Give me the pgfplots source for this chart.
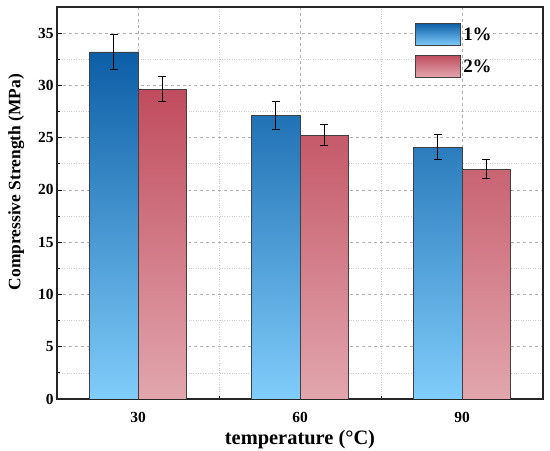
\documentclass[border=0pt]{standalone}
\usepackage{pgfplots}
\pgfplotsset{compat=1.18}
\usepackage{fontspec}
\setmainfont{Liberation Serif}
\definecolor{bluetop}{RGB}{12,94,166}
\definecolor{bluebot}{RGB}{128,204,250}
\definecolor{redtop}{RGB}{192,76,94}
\definecolor{redbot}{RGB}{226,166,173}
\begin{document}
\begin{tikzpicture}
\useasboundingbox (-57bp,-52bp) rectangle (493bp,399bp);
\begin{axis}[
  scale only axis,
  width=486bp, height=392bp,
  xmin=15, xmax=105,
  ymin=0, ymax=37.5,
  xtick={30,60,90},
  minor xtick={45,75},
  ytick={0,5,...,35},
  minor ytick={2.5,7.5,...,37.5},
  tick pos=left,
  tick align=inside,
  major tick length=5bp,
  minor tick length=3bp,
  every tick/.style={black, line width=0.8pt},
  grid=both,
  major grid style={dashed, black!30, line width=0.6pt},
  minor grid style={dotted, black!20, line width=0.6pt},
  axis line style={line width=1.2pt, black!85},
  /pgf/number format/assume math mode=true,
  tick label style={font=\fontsize{15.5}{18}\selectfont\bfseries},
  xlabel={temperature (°C)},
  ylabel={Compressive Strength (MPa)},
  xticklabel style={yshift=-10bp},
  xlabel style={font=\fontsize{20.5}{23}\selectfont\bfseries, yshift=-1bp},
  ylabel style={font=\fontsize{17.5}{20}\selectfont\bfseries, xshift=21bp, yshift=7bp},
  legend image code/.code={\draw[#1] (0bp,-10bp) rectangle (45bp,12bp);},
  legend style={at={(0.731,0.965)}, anchor=north west, draw=none, fill=none,
    font=\fontsize{19}{22}\selectfont\bfseries, row sep=9bp,
    nodes={inner sep=2bp}},
  legend cell align=left,
]
\addplot[ybar, bar width=9, bar shift=0pt, draw=black!75, line width=0.8pt,
  top color=bluetop, bottom color=bluebot,
  error bars/.cd, y dir=both, y explicit,
  error bar style={black, line width=0.8pt},
  error mark options={rotate=90, mark size=4bp, line width=0.8pt, black}]
  coordinates {(25.5,33.2) +- (0,1.7) (55.5,27.15) +- (0,1.35) (85.5,24.1) +- (0,1.2)};
\addlegendentry{1\%}
\addplot[ybar, bar width=9, bar shift=0pt, draw=black!75, line width=0.8pt,
  top color=redtop, bottom color=redbot,
  error bars/.cd, y dir=both, y explicit,
  error bar style={black, line width=0.8pt},
  error mark options={rotate=90, mark size=4bp, line width=0.8pt, black}]
  coordinates {(34.5,29.65) +- (0,1.2) (64.5,25.25) +- (0,1.03) (94.5,22.0) +- (0,0.9)};
\addlegendentry{2\%}
\end{axis}
\end{tikzpicture}
\end{document}
